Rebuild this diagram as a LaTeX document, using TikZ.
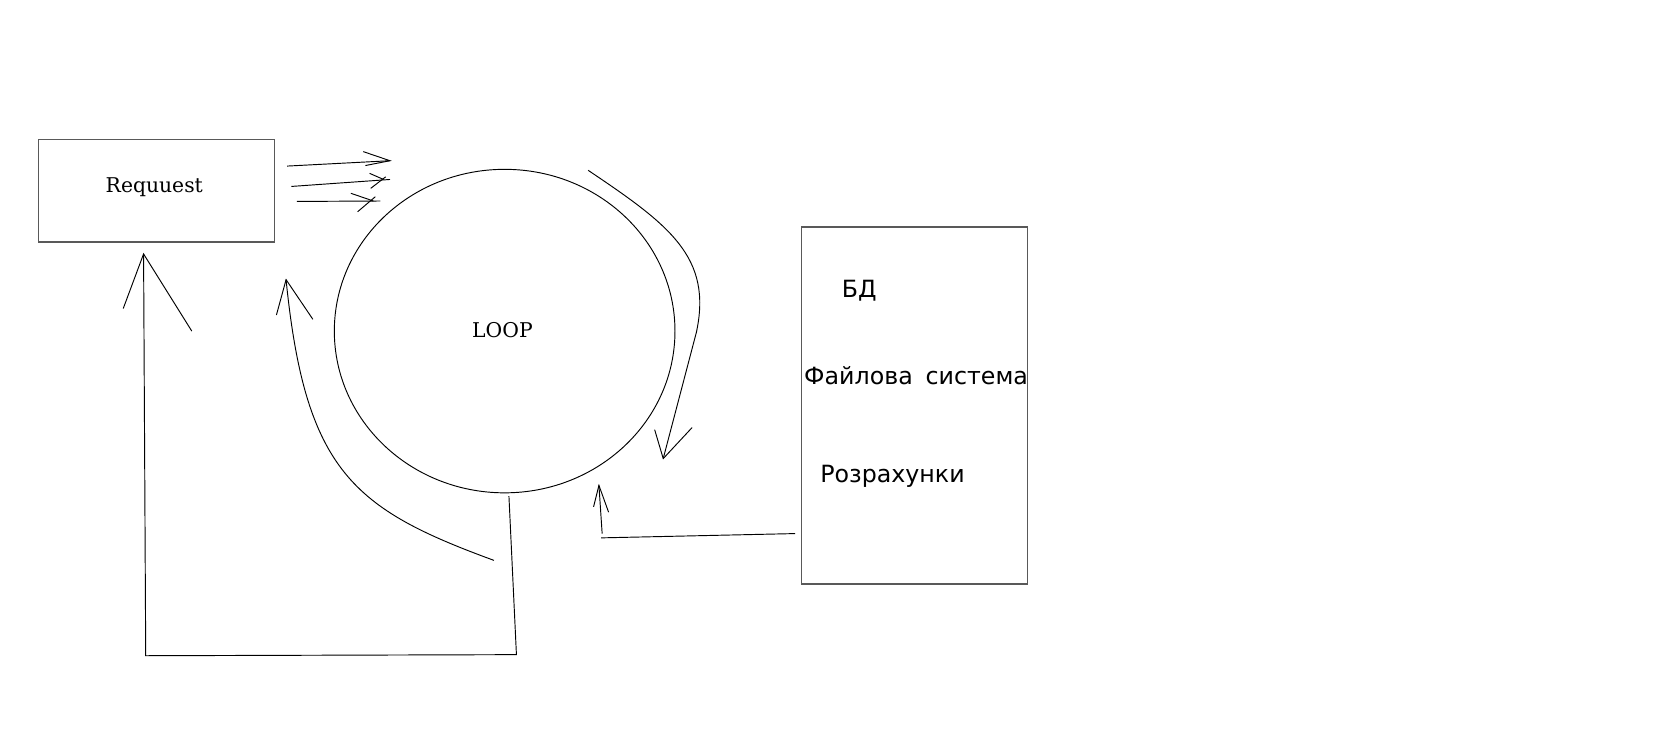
\documentclass[tikz,border=0pt]{standalone}
\usepackage{fontspec}
\newfontfamily\boxfont{DejaVu Sans}
\newfontfamily\loopfont{DejaVu Serif}
\usetikzlibrary{shapes.geometric}
\tikzset{
  pen/.style={line width=0.5pt, black},
  frame/.style={draw=black!65, line width=0.8pt, rectangle, inner sep=0pt},
  boxtext/.style={font=\boxfont\fontsize{12.6}{15}\selectfont},
  serif/.style={font=\loopfont\fontsize{10.8}{13}\selectfont}
}

\begin{document}
\begin{tikzpicture}[x=0.02cm, y=-0.02cm]
          \useasboundingbox (0,0) rectangle (1568,704.67);
          \node[frame, minimum width=4.4cm, minimum height=1.92cm] (req) at (146,178) {};
          \node[serif] (reqtext) at (144,175) {Requuest};
          \node[pen, draw, ellipse, minimum width=6.36cm, minimum height=6.04cm, inner sep=0pt] (loop) at (471,309) {};
          \node[serif] (looptext) at (469,308) {LOOP};
          \node[frame, minimum width=4.22cm, minimum height=6.66cm] (store) at (853.5,378.5) {};
          \node[boxtext] (bd) at (802,271) {БД};
          \node[boxtext] (fs) at (855,351) {Файлова\hspace{6.8pt}система};
          \node[boxtext] (calc) at (833,445) {Розрахунки};
          % request -> loop
          \coordinate (r1) at (268,155); \coordinate (r1t) at (364,150);
          \coordinate (r2) at (272,174); \coordinate (r2t) at (364,167.5);
          \coordinate (r3) at (277,188); \coordinate (r3t) at (355,187.6);
          \draw[pen] (r1) -- (r1t);
          \draw[pen] (r1t) ++(-25,-8.5) -- (r1t) -- +(-23,4.5);
          \draw[pen] (r2) -- (r2t);
          \draw[pen] (r2t) ++(-19,-5.7) -- ++(13,5.7);
          \draw[pen] (r2t) ++(-4,-2.5) -- +(-14,10.8);
          \draw[pen] (r3) -- (r3t);
          \draw[pen] (r3t) ++(-27.5,-7.2) -- ++(21,7.2);
          \draw[pen] (r3t) ++(-4.7,-4) -- +(-16.5,14);
          % loop -> store
          \coordinate (c0) at (549,159); \coordinate (c1) at (619,428);
          \draw[pen] (c0) .. controls (625,210) and (665,240) .. (650,310) -- (c1);
          \draw[pen] (c1) ++(-8,-27) -- (c1) -- +(27,-29);
          % store -> loop
          \coordinate (s0) at (742,498); \coordinate (s1) at (561,502);
          \coordinate (s2) at (562,498); \coordinate (s3) at (559,453);
          \draw[pen] (s0) -- (s1);
          \draw[pen] (s2) -- (s3);
          \draw[pen] (s3) ++(-5,20) -- (s3) -- +(9,25);
          % loop -> back
          \coordinate (l0) at (461,523); \coordinate (l1) at (267,261);
          \draw[pen] (l0) .. controls (330,475) and (285,440) .. (l1);
          \draw[pen] (l1) ++(-9,33) -- (l1) -- +(25,37);
          % loop -> request
          \coordinate (b0) at (475,463); \coordinate (b1) at (482,611);
          \coordinate (b2) at (136,612); \coordinate (b3) at (134,237);
          \draw[pen] (b0) -- (b1) -- (b2) -- (b3);
          \draw[pen] (b3) ++(-19,51) -- (b3) -- +(45,72);
      \end{tikzpicture}
\end{document}
